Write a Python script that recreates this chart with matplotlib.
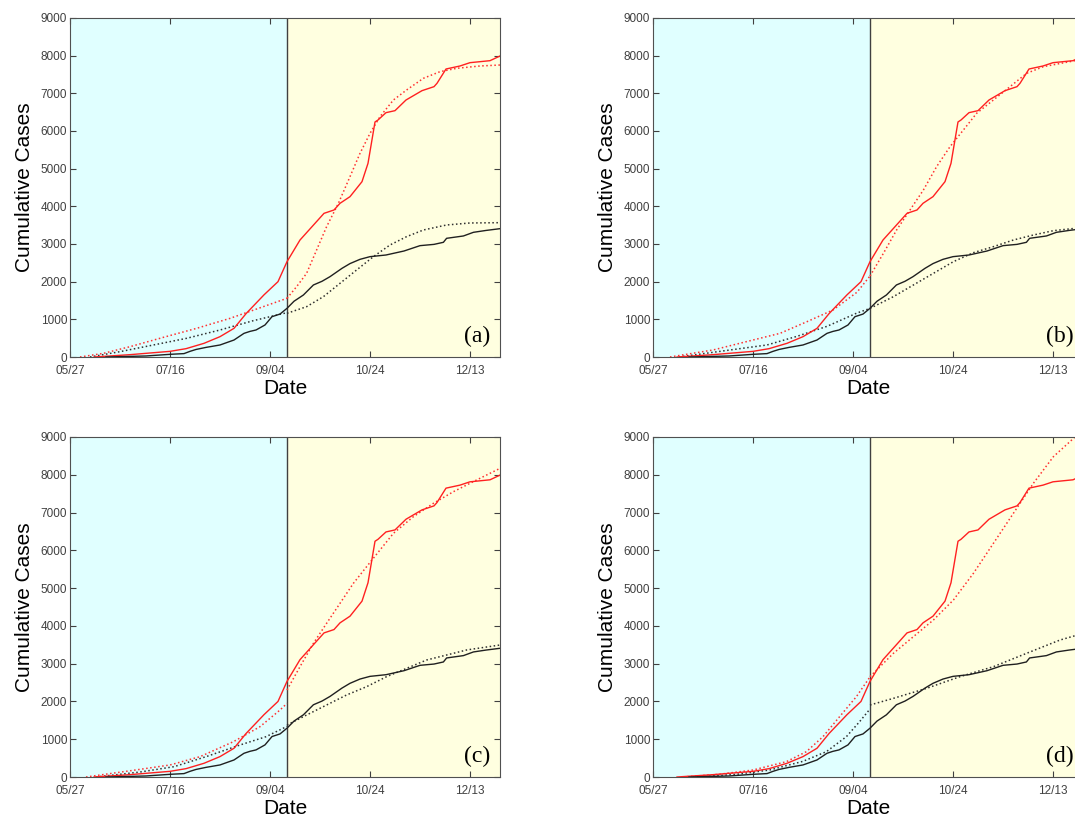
import matplotlib
matplotlib.use('Agg')
import matplotlib.pyplot as plt

# days counted from 05/27
tick_days = [0, 50, 100, 150, 200]
tick_labels = ['05/27', '07/16', '09/04', '10/24', '12/13']
split_day = 108.5  # end of fitting window
x_max = 215
panel_names = ['(a)', '(b)', '(c)', '(d)']

# observed cumulative cases (same in all panels)
red_days = [12, 30, 50, 58, 67, 75, 82, 88, 97, 104, 108.5, 115, 121, 127, 132, 135, 140, 146,
            149, 152.5, 154, 158, 162.5, 168, 176, 182, 183.5, 188, 195, 200, 210, 212.5, 215]
red_cases = [0, 62, 150, 221, 363, 540, 761, 1150, 1650, 2000, 2531, 3106, 3460, 3814, 3903, 4080, 4257, 4655,
             5142, 6240, 6292, 6487, 6540, 6823, 7071, 7177, 7266, 7646, 7726, 7814, 7867, 7929, 7991]
black_days = [18, 38, 50, 57, 60, 63, 68, 75, 82, 87, 90, 93, 97.5, 101, 105, 108.5, 112, 116.7, 121.7, 126,
              130, 136, 140, 145, 150, 158, 167, 175, 182, 186.7, 188.3, 196.7, 201.7, 208, 215]
black_cases = [0, 27, 71, 90, 150, 200, 255, 319, 451, 628, 680, 717, 850, 1071, 1140, 1292, 1480, 1646, 1912, 2010,
               2133, 2354, 2480, 2593, 2664, 2708, 2814, 2956, 2990, 3045, 3151, 3213, 3310, 3360, 3407]

# model fits, before and after the split, per panel
a_red_pre_days = [5, 16.7, 30, 46.7, 63.3, 80, 93.3, 108.5]
a_red_pre = [0, 97, 274, 522, 761, 1026, 1274, 1558]
a_red_post_days = [108.5, 113.3, 118.3, 123.3, 128.3, 134.2, 140, 145, 150, 155, 161.7, 168.3, 176.7, 185, 193.3, 205, 215]
a_red_post = [1558, 1867, 2221, 2841, 3460, 4080, 4788, 5407, 5938, 6381, 6823, 7089, 7399, 7575, 7664, 7726, 7752]
a_blk_pre_days = [10, 25, 41.7, 58.3, 75, 91.7, 108.5]
a_blk_pre = [0, 142, 319, 496, 717, 965, 1177]
a_blk_post_days = [108.5, 118.3, 126.7, 135, 143.3, 151.7, 160, 168.3, 176.7, 188.3, 200, 215]
a_blk_post = [1160, 1336, 1602, 1956, 2310, 2664, 2974, 3195, 3372, 3505, 3558, 3566]

b_red_pre_days = [8.5, 30, 50, 63.5, 77, 90, 102, 108.5]
b_red_pre = [0, 186, 451, 628, 938, 1248, 1720, 2150]
b_red_post_days = [108.5, 115.2, 121.8, 128.5, 135.2, 141.8, 148.5, 155.2, 161.8, 170.2, 178.5, 186.8, 195.2, 211, 215]
b_red_post = [2150, 2752, 3372, 3903, 4434, 5053, 5584, 6027, 6469, 6823, 7177, 7531, 7708, 7867, 7890]
b_blk_pre_days = [13, 38.5, 57, 72, 87, 102, 108.5]
b_blk_pre = [0, 186, 319, 549, 814, 1168, 1290]
b_blk_post_days = [108.5, 120.2, 130.2, 140.2, 150.2, 160.2, 170.2, 180.2, 190.2, 200.2, 211, 215]
b_blk_post = [1290, 1602, 1912, 2221, 2531, 2770, 2929, 3106, 3239, 3354, 3416, 3440]

c_red_pre_days = [8, 31.7, 50, 65, 81.7, 95, 105, 108.5]
c_red_pre = [0, 177, 318, 538, 935, 1332, 1773, 1950]
c_red_post_days = [108.5, 115, 121.7, 128.3, 135, 141.7, 148.3, 155, 161.7, 171.7, 181.7, 191.7, 203.3, 215]
c_red_post = [2303, 2920, 3538, 4068, 4597, 5127, 5567, 6009, 6450, 6891, 7244, 7552, 7862, 8170]
c_blk_pre_days = [13, 35, 52, 68, 85, 98, 108.5]
c_blk_pre = [0, 132, 273, 538, 847, 1067, 1340]
c_blk_post_days = [108.5, 118.3, 128.3, 138.3, 148.3, 158.3, 168.3, 178.3, 188.3, 198.3, 215]
c_blk_post = [1376, 1641, 1906, 2171, 2391, 2656, 2876, 3097, 3229, 3362, 3494]

d_red_pre_days = [15, 33, 50, 66.7, 76.7, 85, 93.3, 101.7, 108.5]
d_red_pre = [0, 71, 185, 406, 671, 1068, 1597, 2127, 2650]
d_red_post_days = [108.5, 120.2, 130.2, 140.2, 150.2, 160.2, 170.2, 180.2, 190.2, 200.2, 211, 215]
d_red_post = [2656, 3274, 3715, 4156, 4685, 5391, 6185, 6980, 7775, 8479, 9000, 9250]
d_blk_pre_days = [20, 41.7, 58.3, 75, 86.7, 96.7, 103.3, 108.5]
d_blk_pre = [0, 71, 185, 415, 671, 1068, 1465, 1800]
d_blk_post_days = [108.5, 120.2, 128.5, 136.8, 153.5, 170.2, 186.8, 203.5, 215]
d_blk_post = [1906, 2082, 2215, 2347, 2656, 2920, 3274, 3626, 3800]

fits = [
    (a_red_pre_days, a_red_pre, a_red_post_days, a_red_post, a_blk_pre_days, a_blk_pre, a_blk_post_days, a_blk_post),
    (b_red_pre_days, b_red_pre, b_red_post_days, b_red_post, b_blk_pre_days, b_blk_pre, b_blk_post_days, b_blk_post),
    (c_red_pre_days, c_red_pre, c_red_post_days, c_red_post, c_blk_pre_days, c_blk_pre, c_blk_post_days, c_blk_post),
    (d_red_pre_days, d_red_pre, d_red_post_days, d_red_post, d_blk_pre_days, d_blk_pre, d_blk_post_days, d_blk_post),
]

plt.rcParams['font.family'] = ['Liberation Sans', 'DejaVu Sans']

W, H = 1075, 816
fig = plt.figure(figsize=(W / 100, H / 100), dpi=100)

# axes boxes in pixels: left, top, right, bottom (right column runs off the page)
boxes = [(70, 18, 500, 357), (653, 18, 1083, 357), (70, 437, 500, 777), (653, 437, 1083, 777)]

for k, (l, t, r, b) in enumerate(boxes):
    ax = fig.add_axes([l / W, 1 - b / H, (r - l) / W, (b - t) / H])
    rp_d, rp, rq_d, rq, bp_d, bp, bq_d, bq = fits[k]
    ax.axvspan(0, split_day, color='#e0ffff', lw=0, zorder=0)
    ax.axvspan(split_day, x_max, color='#ffffe0', lw=0, zorder=0)
    ax.axvline(split_day, color='#404040', lw=1.0, zorder=1)

    ax.plot(rp_d, rp, ':', color='#ff3030', lw=1.1)
    ax.plot(rq_d, rq, ':', color='#ff3030', lw=1.1)
    ax.plot(bp_d, bp, ':', color='#303030', lw=1.1)
    ax.plot(bq_d, bq, ':', color='#303030', lw=1.1)
    ax.plot(red_days, red_cases, '-', color='#ff2020', lw=1.0)
    ax.plot(black_days, black_cases, '-', color='#202020', lw=1.0)

    ax.set_xlim(0, x_max)
    ax.set_ylim(0, 9000)
    ax.set_xticks(tick_days)
    ax.set_xticklabels(tick_labels)
    ax.set_yticks(range(0, 9001, 1000))
    ax.tick_params(direction='in', top=True, right=True, length=4, labelsize=8.5,
                   labelcolor='#404040', color='#404040')
    ax.tick_params(axis='x', pad=6)
    ax.tick_params(axis='y', pad=2)
    for s in ax.spines.values():
        s.set_color('#505050')
    ax.set_xlabel('Date', fontsize=15, labelpad=1)
    ax.set_ylabel('Cumulative Cases', fontsize=15, labelpad=5)
    ax.text(0.947, 0.06, panel_names[k], transform=ax.transAxes, ha='center', va='center',
            fontsize=17, family='Liberation Serif')

fig.savefig('out.png', dpi=100)
